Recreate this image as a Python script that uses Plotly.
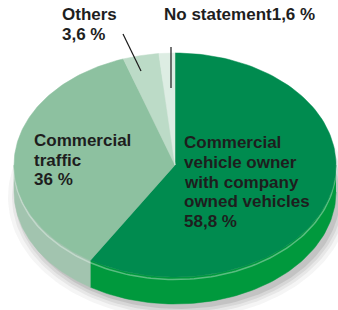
import numpy as np
import plotly.graph_objects as go

# ---- data ----
categories = ["Commercial vehicle owner with company owned vehicles",
              "Commercial traffic", "Others", "No statement"]
values = [58.8, 36.0, 3.6, 1.6]
top_colors = ["#008B4F", "#8DC1A0", "#BCDBC7", "#DDEDE3"]
side_colors = ["#00993D", "#A2C4AF", "#C4DECF", "#E2EFE7"]

# label texts (lines)
label_lines = {
    0: ["Commercial", "vehicle owner", "with company", "owned vehicles", "58,8 %"],
    1: ["Commercial", "traffic", "36 %"],
    2: ["Others", "3,6 %"],
    3: ["No statement1,6 %"],
}

W, H = 338, 310
cx, cy, rx, ry, thick = 175, 165, 161, 112, 27


def pt(theta_deg, r=1.0, dy=0.0):
    t = np.radians(theta_deg)
    return cx + r * rx * np.sin(t), cy - r * ry * np.cos(t) + dy


fig = go.Figure()

# shadow (soft, layered)
for k, (grow, op) in enumerate([(10, 0.05), (6, 0.07), (3, 0.09), (0, 0.12)]):
    t = np.linspace(0, 360, 200)
    xs, ys = pt(t, 1.0, thick)
    xs = cx + (xs - cx) * (rx + grow) / rx + 4
    ys = (cy + thick) + (ys - cy - thick) * (ry + grow) / ry + 5
    fig.add_trace(go.Scatter(x=xs, y=ys, fill="toself", mode="lines",
                             line=dict(width=0, color="rgba(0,0,0,0)"),
                             fillcolor=f"rgba(60,60,60,{op})",
                             hoverinfo="skip", showlegend=False))

# slice angles
total = sum(values)
bounds = np.concatenate([[0], np.cumsum(values) / total * 360])

# sides (front half: 90..270 deg)
for i in range(len(values)):
    a, b = max(bounds[i], 90), min(bounds[i + 1], 270)
    if b <= a:
        continue
    t = np.linspace(a, b, 80)
    x1, y1 = pt(t)
    x2, y2 = pt(t[::-1], 1.0, thick)
    fig.add_trace(go.Scatter(x=np.concatenate([x1, x2]), y=np.concatenate([y1, y2]),
                             fill="toself", mode="lines",
                             line=dict(width=0.5, color=side_colors[i]),
                             fillcolor=side_colors[i], hoverinfo="skip",
                             showlegend=False))
    # rim highlight
    xh, yh = pt(t, 1.0, 2.5)
    fig.add_trace(go.Scatter(x=xh, y=yh, mode="lines",
                             line=dict(width=1.5, color="rgba(255,255,255,0.35)"),
                             hoverinfo="skip", showlegend=False))

# top faces
for i in range(len(values)):
    t = np.linspace(bounds[i], bounds[i + 1], 120)
    xs, ys = pt(t)
    xs = np.concatenate([[cx], xs, [cx]])
    ys = np.concatenate([[cy], ys, [cy]])
    fig.add_trace(go.Scatter(x=xs, y=ys, fill="toself", mode="lines",
                             line=dict(width=0.5, color=top_colors[i]),
                             fillcolor=top_colors[i], hoverinfo="text",
                             text=f"{categories[i]}: {values[i]} %",
                             showlegend=False))

# leader lines
shapes = [
    dict(type="line", x0=123, y0=34, x1=141, y1=71, line=dict(color="#1a1a1a", width=1.2)),
    dict(type="line", x0=171, y0=47, x1=171, y1=88, line=dict(color="#1a1a1a", width=1.2)),
]

# labels: (x_left, first baseline, spacing)
label_pos = {0: (182, 148, 19.8), 1: (32, 146, 19.5), 2: (60, 20, 20), 3: (162, 20, 20)}
annotations = []
fs = 17
for i, lines in label_lines.items():
    x0, b0, sp = label_pos[i]
    for j, line in enumerate(lines):
        annotations.append(dict(x=x0, y=b0 + j * sp - 5.5, text=f"<b>{line}</b>",
                                xanchor="left", yanchor="middle", showarrow=False,
                                xref="x", yref="y",
                                font=dict(family="Liberation Sans, Arial, sans-serif",
                                          size=fs, color="#1e1e1e")))

fig.update_layout(
    width=W, height=H, margin=dict(l=0, r=0, t=0, b=0),
    paper_bgcolor="white", plot_bgcolor="white",
    xaxis=dict(range=[0, W], visible=False, fixedrange=True),
    yaxis=dict(range=[H, 0], visible=False, fixedrange=True),
    shapes=shapes, annotations=annotations,
)
fig.write_html("out.html", config={"displayModeBar": False},
               post_script="document.body.style.margin='0';document.body.style.overflow='hidden';")
